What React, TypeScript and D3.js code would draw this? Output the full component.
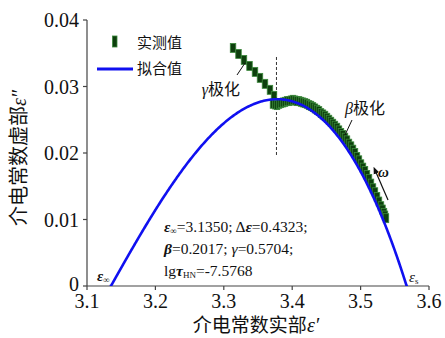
import React from "react";
import * as d3 from "d3";

// Measured Cole–Cole points (ε', ε'')
const MEAS_EPS1 = [
  3.3135, 3.3215, 3.3295, 3.3376, 3.3456, 3.3529, 3.3602, 3.3675, 3.3734,
  3.3719, 3.375, 3.3778, 3.3808, 3.3836, 3.3866, 3.3895, 3.3925, 3.3953,
  3.3982, 3.4012, 3.4041, 3.407, 3.41, 3.4129, 3.4158, 3.4187, 3.4216,
  3.4246, 3.4275, 3.4304, 3.4333, 3.4363, 3.4392, 3.4421, 3.445, 3.448,
  3.4509, 3.4538, 3.4567, 3.4596, 3.4625, 3.4655, 3.4684, 3.4713, 3.4742,
  3.4772, 3.4801, 3.483, 3.486, 3.4889, 3.4918, 3.4947, 3.4976, 3.5006,
  3.5035, 3.5064, 3.5093, 3.5123, 3.5152, 3.5181, 3.521, 3.524, 3.5269,
  3.5298, 3.532, 3.5342, 3.5357, 3.5371,
];
const MEAS_EPS2 = [
  0.0358, 0.0349, 0.034, 0.0331, 0.0322, 0.0313, 0.0304, 0.0295, 0.0286,
  0.0274, 0.0273, 0.0272, 0.0274, 0.0275, 0.0276, 0.0277, 0.0278, 0.0278,
  0.0279, 0.028, 0.0279, 0.0278, 0.0278, 0.0277, 0.0276, 0.0275, 0.0274,
  0.0272, 0.0271, 0.0269, 0.0267, 0.0265, 0.0263, 0.026, 0.0258, 0.0256,
  0.0253, 0.025, 0.0247, 0.0244, 0.0241, 0.0238, 0.0234, 0.023, 0.0227,
  0.0223, 0.0219, 0.0214, 0.021, 0.0205, 0.02, 0.0194, 0.0189, 0.0183,
  0.0178, 0.0173, 0.0167, 0.0161, 0.0154, 0.0147, 0.0141, 0.0134, 0.0127,
  0.012, 0.0115, 0.011, 0.0106, 0.0102,
];

// Havriliak–Negami fit parameters
const EPS_INF = 3.135;
const DELTA_EPS = 0.4323;
const BETA = 0.2017;
const GAMMA = 0.5704;
const LG_TAU = -7.5768;

const X_TICKS = [3.1, 3.2, 3.3, 3.4, 3.5, 3.6];
const Y_TICKS = [0, 0.01, 0.02, 0.03, 0.04];

// ε' at the split between the two relaxation regions
const SPLIT_EPS1 = 3.377;
const SPLIT_RANGE = [0.0197, 0.0347];

const SERIF = "'Liberation Serif', 'Noto Sans CJK SC', serif";
const CJK = "'Noto Sans CJK SC', sans-serif";

function hnPoint(omega: number): [number, number] {
  const r = Math.pow(omega * Math.pow(10, LG_TAU), BETA);
  const ang = (BETA * Math.PI) / 2;
  const re = 1 + r * Math.cos(ang);
  const im = r * Math.sin(ang);
  const mod = Math.pow(Math.hypot(re, im), -GAMMA);
  const phi = GAMMA * Math.atan2(im, re);
  return [EPS_INF + DELTA_EPS * mod * Math.cos(phi), DELTA_EPS * mod * Math.sin(phi)];
}

export default function App() {
  const x = d3.scaleLinear().domain([3.1, 3.6]).range([87, 429]);
  const y = d3.scaleLinear().domain([0, 0.04]).range([286, 20]);

  const logOmega = d3.range(-55, 70, 0.05);
  const fit: [number, number][] = [
    [EPS_INF + DELTA_EPS, 0],
    ...logOmega.map((l) => hnPoint(Math.pow(10, l))),
    [EPS_INF, 0],
  ];
  const line = d3
    .line<[number, number]>()
    .x((d) => x(d[0]))
    .y((d) => y(d[1]));

  const meas = MEAS_EPS1.map((v, i) => [v, MEAS_EPS2[i]] as [number, number]);
  const fmtY = (v: number) => (v === 0 ? "0" : d3.format(".2f")(v));
  const fmtX = d3.format(".1f");

  const mw = 5.5;
  const mh = 9;

  return (
    <svg
      width={445}
      height={338}
      style={{ position: "absolute", left: 0, top: 0, background: "#fff" }}
    >
      <defs>
        <marker id="arr" viewBox="0 0 10 10" refX="5" refY="5" markerWidth="6" markerHeight="6" orient="auto-start-reverse">
          <path d="M0,1 L10,5 L0,9 z" fill="#111" />
        </marker>
        <clipPath id="plot">
          <rect x={x(3.1)} y={y(0.04) - 10} width={x(3.6) - x(3.1)} height={y(0) - y(0.04) + 10} />
        </clipPath>
      </defs>

      {/* axes */}
      <g stroke="#444" strokeWidth={1.2} fill="none">
        <line x1={x(3.1)} x2={x(3.1)} y1={y(0.04)} y2={y(0)} />
        <line x1={x(3.1)} x2={x(3.6)} y1={y(0)} y2={y(0)} />
        {Y_TICKS.map((t) => (
          <line key={t} x1={x(3.1) - 4} x2={x(3.1)} y1={y(t)} y2={y(t)} />
        ))}
        {X_TICKS.map((t) => (
          <line key={t} x1={x(t)} x2={x(t)} y1={y(0)} y2={y(0) + 4} />
        ))}
      </g>
      <g fontFamily={SERIF} fontSize={20} fill="#111">
        {Y_TICKS.map((t) => (
          <text key={t} x={x(3.1) - 8} y={y(t) + (t === 0 ? 5 : 7)} textAnchor="end">
            {fmtY(t)}
          </text>
        ))}
        {X_TICKS.map((t) => (
          <text key={t} x={x(t)} y={y(0) + 22} textAnchor="middle">
            {fmtX(t)}
          </text>
        ))}
      </g>

      {/* axis titles */}
      <text x={256} y={332} textAnchor="middle" fontSize={19} fill="#111" fontFamily={CJK}>
        介电常数实部
        <tspan fontFamily={SERIF} fontStyle="italic" fontSize={20}>ε′</tspan>
      </text>
      <text
        transform="translate(26,158) rotate(-90)"
        textAnchor="middle"
        fontSize={20}
        fill="#111"
        fontFamily={CJK}
      >
        介电常数虚部
        <tspan fontFamily={SERIF} fontStyle="italic">ε″</tspan>
      </text>

      {/* split marker */}
      <line
        x1={x(SPLIT_EPS1)}
        x2={x(SPLIT_EPS1)}
        y1={y(SPLIT_RANGE[0])}
        y2={y(SPLIT_RANGE[1])}
        stroke="#333"
        strokeWidth={1}
        strokeDasharray="3,2"
      />

      {/* measured points */}
      <g fill="#0d3f0d" stroke="#3c8a3c" strokeWidth={0.8}>
        {meas.map((d, i) => (
          <rect key={i} x={x(d[0]) - mw / 2} y={y(d[1]) - mh / 2} width={mw} height={mh} />
        ))}
      </g>

      {/* HN fit */}
      <path d={line(fit) ?? ""} fill="none" stroke="#1010f0" strokeWidth={2.6} clipPath="url(#plot)" />

      {/* legend */}
      <rect x={112.5} y={36} width={4.5} height={11} fill="#0d3f0d" stroke="#3c8a3c" strokeWidth={0.8} />
      <text x={137} y={48} fontSize={15} fontFamily={CJK} fill="#111">实测值</text>
      <line x1={97} x2={133} y1={69} y2={69} stroke="#1010f0" strokeWidth={3} />
      <text x={137} y={74} fontSize={15} fontFamily={CJK} fill="#111">拟合值</text>

      {/* annotations */}
      <text x={240} y={95} textAnchor="end" fontSize={16} fill="#111" fontFamily={CJK}>
        <tspan fontFamily={SERIF} fontStyle="italic">γ</tspan>极化
      </text>
      <line x1={237} y1={75} x2={245} y2={63} stroke="#111" strokeWidth={1} />
      <text x={345} y={114} fontSize={16} fill="#111" fontFamily={CJK}>
        <tspan fontFamily={SERIF} fontStyle="italic">β</tspan>极化
      </text>
      <line x1={352} y1={120} x2={345} y2={135} stroke="#111" strokeWidth={1} />
      <line x1={388} y1={200} x2={375} y2={170} stroke="#111" strokeWidth={1.2} markerEnd="url(#arr)" />
      <text x={378} y={177} fontSize={15} fontFamily={SERIF} fontStyle="italic" fontWeight="bold" fill="#111">ω</text>

      {/* end-point labels */}
      <text x={97} y={281} fontSize={15} fontFamily={SERIF} fontStyle="italic" fontWeight="bold" fill="#111">
        ε<tspan fontSize={9} fontStyle="normal" dy={2}>∞</tspan>
      </text>
      <text x={409} y={282} fontSize={15} fontFamily={SERIF} fontStyle="italic" fill="#111">
        ε<tspan fontSize={9} fontStyle="normal" dy={2}>s</tspan>
      </text>

      {/* fitted parameters */}
      <g fontFamily={SERIF} fontSize={15.5} fill="#111">
        <text x={164} y={232}>
          <tspan fontStyle="italic" fontWeight="bold">ε</tspan>
          <tspan fontSize={9} dy={2}>∞</tspan>
          <tspan dy={-2}>=3.1350; Δ</tspan>
          <tspan fontStyle="italic" fontWeight="bold">ε</tspan>=0.4323;
        </text>
        <text x={164} y={254}>
          <tspan fontStyle="italic" fontWeight="bold">β</tspan>=0.2017;{" "}
          <tspan fontStyle="italic">γ</tspan>=0.5704;
        </text>
        <text x={164} y={276}>
          lg<tspan fontStyle="italic" fontWeight="bold">τ</tspan>
          <tspan fontSize={9} dy={2}>HN</tspan>
          <tspan dy={-2}>=-7.5768</tspan>
        </text>
      </g>
    </svg>
  );
}
